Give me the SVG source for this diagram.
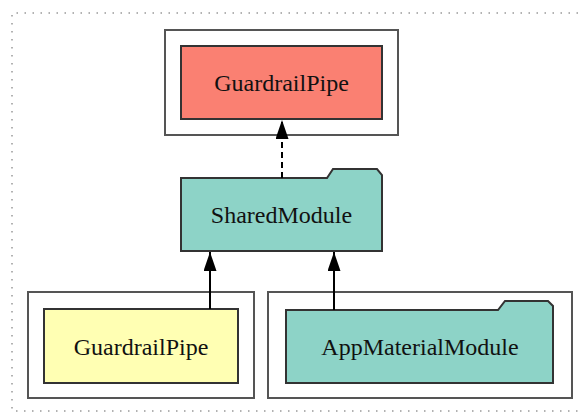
<svg xmlns="http://www.w3.org/2000/svg" width="578" height="414" viewBox="0 0 578 414">
  <style>
    .frame { fill: none; stroke: #999; stroke-width: 1.5; stroke-dasharray: 1.5 6.5; }
    .cluster { fill: #fff; stroke: #555; stroke-width: 2; }
    .node { stroke: #333; stroke-width: 2; }
    .label { font-family: "Liberation Serif", "Times New Roman", serif; font-size: 24px; fill: #111; text-anchor: middle; }
    .edge { fill: none; stroke: #000; stroke-width: 2; }
    .dashed { stroke-dasharray: 6 4; }
  </style>
  <defs>
    <marker id="arrow" viewBox="0 0 19 13" refX="19" refY="6.5" markerWidth="19" markerHeight="13" markerUnits="userSpaceOnUse" orient="auto">
      <path d="M0,0 L19,6.5 L0,13 Z" fill="#000"/>
    </marker>
  </defs>

  <!-- outer dotted frame -->
  <path class="frame" d="M578,13 H12 V411 H578"/>

  <!-- clusters -->
  <rect class="cluster" x="165" y="30" width="233" height="105"/>
  <rect class="cluster" x="28" y="292" width="226" height="106"/>
  <rect class="cluster" x="268" y="292" width="304" height="106"/>

  <g id="guardrail-pipe-top">
    <rect class="node" x="181" y="46" width="201" height="73" fill="#fa8072"/>
    <text class="label" x="281.5" y="91">GuardrailPipe</text>
  </g>

  <g id="shared-module">
    <path class="node" fill="#8dd3c7" d="M181,178 H327 L333,169 H377 L382,175 V251 H181 Z"/>
    <text class="label" x="281.5" y="223">SharedModule</text>
  </g>

  <g id="guardrail-pipe-bottom">
    <rect class="node" x="44" y="309" width="194" height="74" fill="#ffffb3"/>
    <text class="label" x="141" y="355">GuardrailPipe</text>
  </g>

  <g id="app-material-module">
    <path class="node" fill="#8dd3c7" d="M286,310 H498 L505,301 H548 L553,306 V383 H286 Z"/>
    <text class="label" x="420" y="355">AppMaterialModule</text>
  </g>

  <g id="connectors">
    <path class="edge dashed" d="M282,178 V120" marker-end="url(#arrow)"/>
    <path class="edge" d="M210,309 V252" marker-end="url(#arrow)"/>
    <path class="edge" d="M334,310 V252" marker-end="url(#arrow)"/>
  </g>
</svg>
